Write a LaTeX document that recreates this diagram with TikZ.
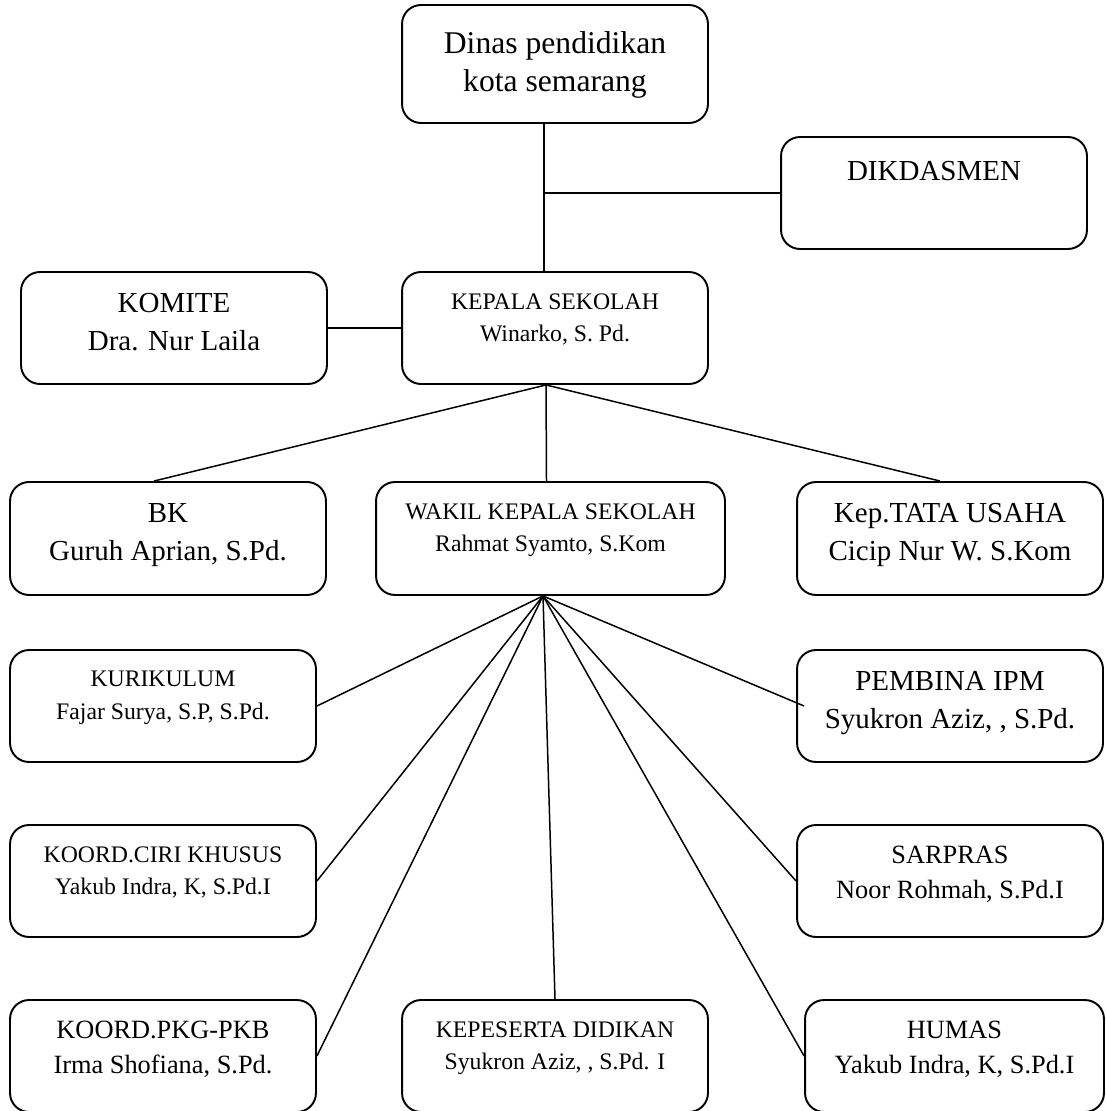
\documentclass[tikz,border=0pt]{standalone}
\usepackage{fontspec}
\setmainfont{Liberation Serif}
\usepackage{tikz}
\usetikzlibrary{calc,positioning}
\tikzstyle{orgbox}=[draw=black,line width=1.1pt,rounded corners=0.38cm,minimum height=2.24cm,inner sep=0pt]
\tikzstyle{wide box}=[orgbox,minimum width=6.12cm]
\tikzstyle{side box}=[orgbox,minimum width=6.32cm]
\tikzstyle{org text}=[anchor=north,align=center,inner sep=0pt]
\tikzstyle{big text}=[org text,font=\fontsize{16.5}{21.5}\selectfont]
\tikzstyle{mid text}=[org text,font=\fontsize{15}{19.5}\selectfont]
\tikzstyle{small text}=[org text,font=\fontsize{13.5}{18.5}\selectfont]
\tikzstyle{orgedge}=[line width=0.85pt,black]

\begin{document}
\begin{tikzpicture}[x=0.02cm,y=-0.02cm]
\def\textdrop{0.44cm}
    \useasboundingbox (0,0) rectangle (1105,1111);

    % boxes
    \node[wide box, minimum height=2.36cm] (dinas) at (555,64) {};
    \node[wide box] (dikdasmen) at (934,193) {};
    \node[wide box] (komite) at (174,328) {};
    \node[wide box] (kepala) at (555,328) {};
    \node[side box, minimum height=2.26cm] (bk) at (168,538.5) {};
    \node[orgbox, minimum width=6.98cm, minimum height=2.26cm] (wakil) at (550.5,538.5) {};
    \node[wide box, minimum height=2.26cm] (tu) at (950,538.5) {};
    \node[wide box] (kurikulum) at (163,706) {};
    \node[wide box] (pembina) at (950,706) {};
    \node[wide box] (ciri) at (163,881) {};
    \node[wide box] (sarpras) at (950,881) {};
    \node[wide box] (pkg) at (163,1056) {};
    \node[wide box] (kepeserta) at (555,1056) {};
    \node[orgbox, minimum width=5.98cm] (humas) at (954.5,1056) {};

    % texts
    \node[org text, font=\fontsize{18}{21.6}\selectfont] (dinas-t) at ([yshift=-0.54cm]dinas.north) {Dinas pendidikan\\kota semarang};
    \node[big text] (dikdasmen-t) at ([yshift=-0.5cm]dikdasmen.north) {DIKDASMEN};
    \node[big text] (komite-t) at ([yshift=-\textdrop]komite.north) {KOMITE\\Dra. Nur Laila};
    \node[small text] (kepala-t) at ([yshift=-\textdrop]kepala.north) {KEPALA SEKOLAH\\Winarko, S. Pd.};
    \node[big text] (bk-t) at ([yshift=-\textdrop]bk.north) {BK\\Guruh Aprian, S.Pd.};
    \node[small text] (wakil-t) at ([yshift=-\textdrop]wakil.north) {WAKIL KEPALA SEKOLAH\\Rahmat Syamto, S.Kom};
    \node[big text] (tu-t) at ([yshift=-\textdrop]tu.north) {Kep.TATA USAHA\\Cicip Nur W. S.Kom};
    \node[small text] (kurikulum-t) at ([yshift=-\textdrop]kurikulum.north) {KURIKULUM\\Fajar Surya, S.P, S.Pd.};
    \node[big text] (pembina-t) at ([yshift=-\textdrop]pembina.north) {PEMBINA IPM\\Syukron Aziz, , S.Pd.};
    \node[small text] (ciri-t) at ([yshift=-\textdrop]ciri.north) {KOORD.CIRI KHUSUS\\Yakub Indra, K, S.Pd.I};
    \node[mid text] (sarpras-t) at ([yshift=-\textdrop]sarpras.north) {SARPRAS\\Noor Rohmah, S.Pd.I};
    \node[mid text] (pkg-t) at ([yshift=-\textdrop]pkg.north) {KOORD.PKG-PKB\\Irma Shofiana, S.Pd.};
    \node[small text] (kepeserta-t) at ([yshift=-\textdrop]kepeserta.north) {KEPESERTA DIDIKAN\\Syukron Aziz, , S.Pd. I};
    \node[mid text] (humas-t) at ([yshift=-\textdrop]humas.north) {HUMAS\\Yakub Indra, K, S.Pd.I};

    % connectors
    \draw[orgedge] ([xshift=-0.22cm]dinas.south) -- ([xshift=-0.22cm]kepala.north);
    \coordinate (trunk) at ([xshift=-0.22cm]dinas.south |- dikdasmen.west);
    \draw[orgedge] (trunk) -- (dikdasmen.west);
    \draw[orgedge] (komite.east) -- (kepala.west);

    \coordinate (head) at ([xshift=-0.18cm]kepala.south);
    \draw[orgedge] (head) -- ([xshift=-0.28cm]bk.north);
    \draw[orgedge] (head) -- ([xshift=-0.08cm]wakil.north);
    \draw[orgedge] (head) -- ([xshift=-0.2cm]tu.north);

    \coordinate (fan) at ([xshift=-0.15cm]wakil.south);
    \foreach \dest/\side in {kurikulum/east,ciri/east,pkg/east,kepeserta/north,humas/west,sarpras/west}
        \draw[orgedge] (fan) -- (\dest.\side);
    \draw[orgedge] (fan) -- ([xshift=0.16cm]pembina.west);

\end{tikzpicture}
\end{document}
